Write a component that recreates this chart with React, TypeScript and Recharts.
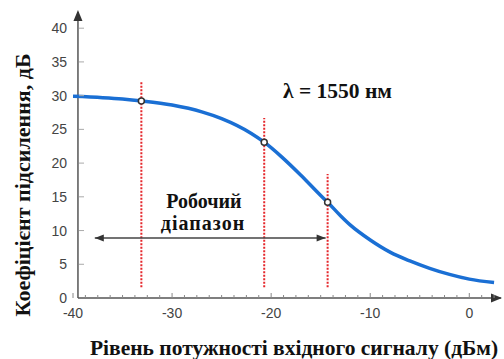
import { LineChart, Line, XAxis, YAxis, ReferenceLine, ReferenceDot } from 'recharts';

// gain curve
const POWER = [-40, -37, -35, -33, -30, -27, -25, -22, -20.7, -19, -17, -15, -14.3, -13, -12, -10, -8, -6, -4, -2, 0, 2.5];
const GAIN = [29.9, 29.7, 29.5, 29.2, 28.6, 27.6, 26.6, 24.4, 23.1, 21.0, 18.2, 15.2, 14.2, 12.2, 10.8, 8.6, 6.8, 5.5, 4.4, 3.5, 2.8, 2.3];

// operating points + dashed markers
const OP_X = [-33.1, -20.7, -14.3];
const OP_Y = [29.2, 23.1, 14.2];
const OP_TOP = [32.1, 26.7, 18.4];
const OP_BOTTOM = 1.6;

// working range arrow
const RANGE_FROM = -37.8;
const RANGE_TO = -14.5;
const RANGE_LEVEL = 8.9;

const X_TICKS = [
  -40, -38.75, -37.5, -36.25, -35, -33.75, -32.5, -31.25, -30, -28.75, -27.5, -26.25, -25,
  -23.75, -22.5, -21.25, -20, -18.75, -17.5, -16.25, -15, -13.75, -12.5, -11.25, -10,
  -8.75, -7.5, -6.25, -5, -3.75, -2.5, -1.25, 0, 1.25, 2.5,
];
const X_LABELS = [-40, -30, -20, -10, 0];
const Y_TICKS = [0, 5, 10, 15, 20, 25, 30, 35, 40];

const X_MAX = 3.2;
const Y_MAX = 42.4;
const AXIS_X = -39.5;

const data = POWER.map((p, i) => ({ power: p, gain: GAIN[i] }));

const axisColor = '#555';
const tickFont = { fontFamily: '"Liberation Sans", Arial, sans-serif', fontSize: 14, fill: '#444' };
const serifBold = {
  fontFamily: "'Liberation Serif'",
  fontWeight: 700,
  fill: '#111',
};

function XTick(props: any) {
  const { x, y, payload } = props;
  const labeled = X_LABELS.includes(payload.value);
  return (
    <g>
      <line x1={x} x2={x} y1={y - (labeled ? 5 : 3)} y2={y} stroke="#888" strokeWidth={1} />
      {labeled && (
        <text x={x} y={y + 20} textAnchor="middle" {...tickFont}>
          {payload.value}
        </text>
      )}
    </g>
  );
}

function YTick(props: any) {
  const { y, payload } = props;
  return (
    <g>
      {payload.value > 0 && <line x1={79} x2={84} y1={y} y2={y} stroke="#aaa" strokeWidth={1} />}
      <text x={67} y={y + 5} textAnchor="end" {...tickFont}>
        {payload.value}
      </text>
    </g>
  );
}

const upArrow = (p: any) => (
  <path d={`M${p.cx},${p.cy - 2} L${p.cx - 4.5},${p.cy + 9} L${p.cx + 4.5},${p.cy + 9} Z`} fill="#333" />
);
const rightArrow = (p: any) => (
  <path d={`M${p.cx + 1},${p.cy} L${p.cx - 10},${p.cy - 4.5} L${p.cx - 10},${p.cy + 4.5} Z`} fill="#333" />
);
const leftHead = (p: any) => (
  <path d={`M${p.cx},${p.cy} L${p.cx + 9},${p.cy - 3.5} L${p.cx + 9},${p.cy + 3.5} Z`} fill="#333" />
);
const rightHead = (p: any) => (
  <path d={`M${p.cx},${p.cy} L${p.cx - 9},${p.cy - 3.5} L${p.cx - 9},${p.cy + 3.5} Z`} fill="#333" />
);

export default function App() {
  return (
    <div style={{ position: 'absolute', left: 0, top: 0, width: 504, height: 359, background: '#fff' }}>
      <LineChart width={504} height={359} data={data} margin={{ top: 12, right: 3, bottom: 31, left: 23 }}>
        <XAxis
          type="number"
          dataKey="power"
          domain={[-40, X_MAX]}
          ticks={X_TICKS}
          interval={0}
          allowDataOverflow
          axisLine={false}
          tickLine={false}
          tickSize={0}
          tickMargin={0}
          height={30}
          tick={<XTick />}
        />
        <YAxis
          type="number"
          domain={[0, Y_MAX]}
          ticks={Y_TICKS}
          interval={0}
          allowDataOverflow
          axisLine={false}
          tickLine={false}
          tickSize={0}
          tickMargin={0}
          width={50}
          tick={<YTick />}
        />
        <ReferenceLine segment={[{ x: AXIS_X, y: 0 }, { x: AXIS_X, y: Y_MAX }]} stroke={axisColor} strokeWidth={1.5} />
        <ReferenceLine segment={[{ x: AXIS_X, y: 0 }, { x: X_MAX, y: 0 }]} stroke={axisColor} strokeWidth={1.5} />
        <ReferenceDot x={AXIS_X} y={Y_MAX} r={0} shape={upArrow} />
        <ReferenceDot x={X_MAX} y={0} r={0} shape={rightArrow} />

        {OP_X.map((x, i) => (
          <ReferenceLine
            key={`op${i}`}
            segment={[{ x, y: OP_BOTTOM }, { x, y: OP_TOP[i] }]}
            stroke="#e5262b"
            strokeWidth={2}
            strokeDasharray="2 1.5"
          />
        ))}

        <ReferenceLine
          segment={[{ x: RANGE_FROM, y: RANGE_LEVEL }, { x: RANGE_TO, y: RANGE_LEVEL }]}
          stroke="#444"
          strokeWidth={1.5}
        />
        <ReferenceDot x={RANGE_FROM} y={RANGE_LEVEL} r={0} shape={leftHead} />
        <ReferenceDot x={RANGE_TO} y={RANGE_LEVEL} r={0} shape={rightHead} />

        <Line
          type="monotone"
          dataKey="gain"
          stroke="#1a6fd4"
          strokeWidth={3.5}
          dot={false}
          isAnimationActive={false}
        />

        {OP_X.map((x, i) => (
          <ReferenceDot key={`pt${i}`} x={x} y={OP_Y[i]} r={3} fill="#fff" stroke="#333" strokeWidth={1.5} />
        ))}
      </LineChart>

      <svg width={504} height={359} style={{ position: 'absolute', left: 0, top: 0, pointerEvents: 'none' }}>
        <g style={serifBold}>
          <text x={283} y={98} fontSize={21.5}>
            λ = 1550 нм
          </text>
          <text x={204} y={208} fontSize={20} textAnchor="middle">
            Робочий
          </text>
          <text x={203} y={230} fontSize={20} textAnchor="middle" letterSpacing={1}>
            діапазон
          </text>
          <text x={294} y={355} fontSize={21.5} textAnchor="middle">
            Рівень потужності вхідного сигналу (дБм)
          </text>
          <text x={0} y={0} fontSize={22} textAnchor="middle" transform="translate(30,185) rotate(-90)">
            Коефіцієнт підсилення, дБ
          </text>
        </g>
      </svg>
    </div>
  );
}
